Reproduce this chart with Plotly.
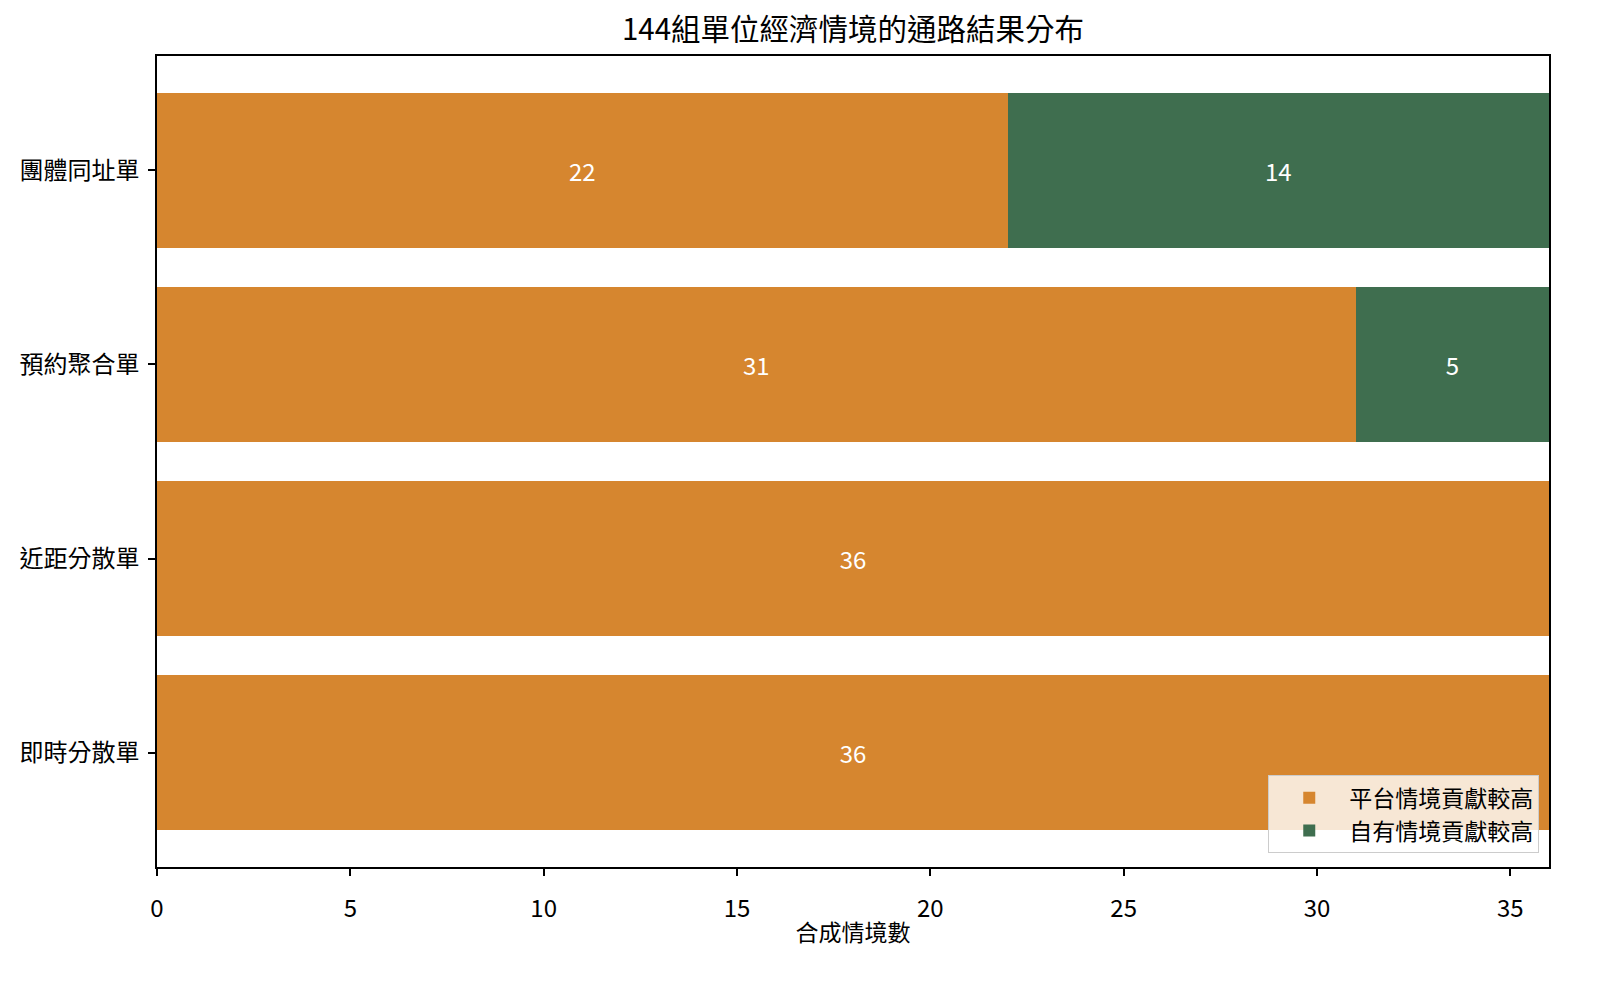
import plotly.graph_objects as go

# channels, top to bottom
channels = ["團體同址單", "預約聚合單", "近距分散單", "即時分散單"]
platform_counts = [22, 31, 36, 36]
own_counts = [14, 5, 0, 0]

series_names = ["平台情境貢獻較高", "自有情境貢獻較高"]
colors = ["#d6862f", "#3f6e4f"]
x_ticks = [0, 5, 10, 15, 20, 25, 30, 35]

font_family = "Noto Sans CJK TC, Noto Sans, sans-serif"

fig = go.Figure()

for name, vals, color in zip(series_names, [platform_counts, own_counts], colors):
    labels = [str(v) if v > 0 else "" for v in vals]
    fig.add_trace(go.Bar(
        y=channels,
        x=vals,
        name=name,
        orientation="h",
        marker=dict(color=color, line=dict(width=0)),
        width=0.8,
        text=labels,
        textposition="inside",
        insidetextanchor="middle",
        textangle=0,
        textfont=dict(color="white", size=24, family=font_family),
        hoverinfo="x+y+name",
    ))

fig.update_layout(
    barmode="stack",
    width=1602,
    height=983,
    paper_bgcolor="white",
    plot_bgcolor="white",
    margin=dict(l=157, r=53, t=56, b=116),
    font=dict(family=font_family, size=24, color="black"),
    title=dict(
        text="144組單位經濟情境的通路結果分布",
        x=0.5, xref="paper", xanchor="center",
        y=1 - 30 / 983, yref="container", yanchor="middle",
        font=dict(size=29.5, color="black"),
    ),
    showlegend=True,
    legend=dict(
        x=0.993, y=0.017, xanchor="right", yanchor="bottom",
        bgcolor="rgba(255,255,255,0.8)",
        bordercolor="#cccccc",
        borderwidth=1,
        font=dict(size=23),
        traceorder="normal",
        itemwidth=70,
    ),
    uniformtext=dict(mode="show", minsize=10),
)

fig.update_xaxes(
    range=[0, 36],
    tickvals=x_ticks,
    ticks="outside",
    ticklen=7,
    tickwidth=1.5,
    tickcolor="black",
    showline=True,
    linecolor="black",
    linewidth=1.5,
    mirror=True,
    showgrid=False,
    zeroline=False,
    ticklabelstandoff=12,
    title=dict(text="合成情境數", font=dict(size=23), standoff=2),
)

fig.update_yaxes(
    categoryorder="array",
    categoryarray=channels,
    autorange=False,
    range=[3.59, -0.59],
    ticks="outside",
    ticklen=7,
    tickwidth=1.5,
    tickcolor="black",
    showline=True,
    linecolor="black",
    linewidth=1.5,
    mirror=True,
    showgrid=False,
    zeroline=False,
    ticklabelstandoff=4,
)

fig.write_html(
    "out.html",
    config={"displayModeBar": False},
    post_script="document.body.style.margin='0';document.body.style.overflow='hidden';",
)
